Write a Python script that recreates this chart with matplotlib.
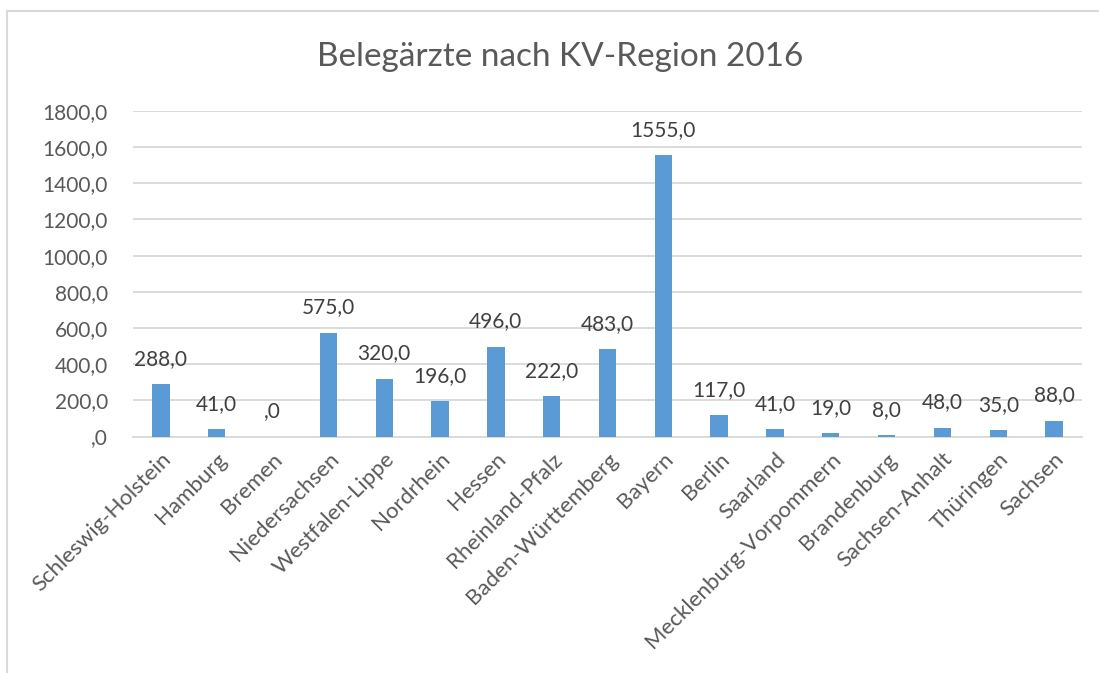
import matplotlib.pyplot as plt
from matplotlib.patches import Rectangle

regions = ["Schleswig-Holstein", "Hamburg", "Bremen", "Niedersachsen", "Westfalen-Lippe",
           "Nordrhein", "Hessen", "Rheinland-Pfalz", "Baden-Württemberg", "Bayern", "Berlin",
           "Saarland", "Mecklenburg-Vorpommern", "Brandenburg", "Sachsen-Anhalt", "Thüringen",
           "Sachsen"]
belegaerzte = [288, 41, 0, 575, 320, 196, 496, 222, 483, 1555, 117, 41, 19, 8, 48, 35, 88]
yticks = [0, 200, 400, 600, 800, 1000, 1200, 1400, 1600, 1800]


def fmt(v):
    s = f"{v:.1f}".replace(".", ",")
    if s.startswith("0,"):
        s = s[1:]
    return s


plt.rcParams['font.family'] = ['Lato', 'DejaVu Sans']
grey = "#595959"

fig = plt.figure(figsize=(10.99, 6.73), dpi=100)
fig.patches.append(Rectangle((7 / 1099, -0.1), 1.2, 1 - 11 / 673 + 0.1, transform=fig.transFigure,
                             fill=False, edgecolor="#D9D9D9", linewidth=1.5))

ax = fig.add_axes([133 / 1099, 1 - 436.5 / 673, (1082 - 133) / 1099, (436.5 - 111) / 673])
x = range(len(regions))
bars = ax.bar(x, belegaerzte, width=0.31, color="#5B9BD5", zorder=3)

for xi, v in zip(x, belegaerzte):
    ax.annotate(fmt(v), (xi, v), xytext=(0, 11), textcoords="offset points",
                ha="center", va="bottom", fontsize=15, color="#404040")

ax.set_xlim(-0.5, len(regions) - 0.5)
ax.set_ylim(0, 1800)
ax.set_yticks(yticks)
ax.set_yticklabels([fmt(t) for t in yticks], fontsize=15, color=grey)
ax.tick_params(axis="y", length=0, pad=18)
ax.tick_params(axis="x", length=0, pad=9)
ax.set_xticks(list(x))
ax.set_xticklabels(regions, rotation=45, ha="right", va="top", rotation_mode="anchor",
                   fontsize=16, color=grey)
ax.grid(axis="y", color="#D9D9D9", linewidth=1.3, zorder=0)
for s in ["top", "right", "left"]:
    ax.spines[s].set_visible(False)
ax.spines["bottom"].set_color("#D9D9D9")
ax.spines["bottom"].set_linewidth(1.3)

fig.text(560 / 1099, 1 - 57 / 673, "Belegärzte nach KV-Region 2016", ha="center", va="center",
         fontsize=24, color=grey)

fig.savefig("out.png", dpi=100)
